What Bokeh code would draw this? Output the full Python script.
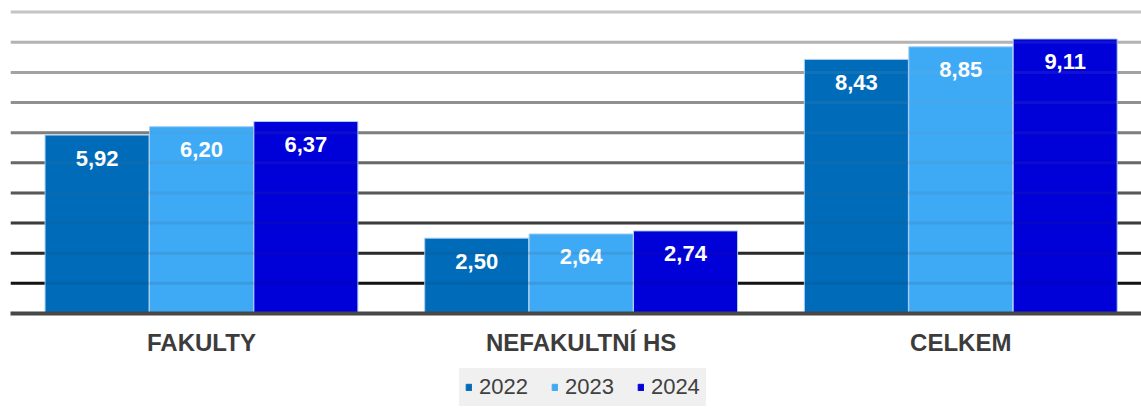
from bokeh.plotting import figure
from bokeh.layouts import column
from bokeh.models import ColumnDataSource, FixedTicker, Legend, LegendItem, Range1d
from bokeh.core.properties import value
from bokeh.embed import file_html
from bokeh.resources import INLINE

categories = ["FAKULTY", "NEFAKULTNÍ HS", "CELKEM"]
years = ["2022", "2023", "2024"]
v2022 = [5.92, 2.50, 8.43]
v2023 = [6.20, 2.64, 8.85]
v2024 = [6.37, 2.74, 9.11]
grid_ticks = [1, 2, 3, 4, 5, 6, 7, 8, 9, 10]

colors = ["#006cb9", "#3eaaf6", "#0000d8"]
grid_colors = ["#141414", "#2a2a2a", "#3e3e3e", "#585858", "#686868",
               "#7e7e7e", "#909090", "#a2a2a2", "#b4b4b4", "#c6c6c6"]

X0, X1 = -0.503, 2.476
p = figure(width=1141, height=363, output_backend="svg", toolbar_location=None,
           x_range=Range1d(X0, X1), y_range=Range1d(0, 10.12),
           min_border_left=10, min_border_right=0, min_border_top=8, min_border_bottom=50)
p.outline_line_color = None
p.xgrid.visible = False
p.ygrid.visible = False
p.yaxis.visible = False

gsrc = ColumnDataSource(dict(x0=[X0] * len(grid_ticks), x1=[X1] * len(grid_ticks),
                             y=grid_ticks, c=grid_colors))
p.segment(x0="x0", y0="y", x1="x1", y1="y", color="c", line_width=3, source=gsrc)

offsets = [-0.275, 0.0, 0.275]
bw = 0.274
for vals, off, col in zip([v2022, v2023, v2024], offsets, colors):
    xs = [i + off for i in range(len(categories))]
    src = ColumnDataSource(dict(x=xs, top=vals,
                                lab=[f"{v:.2f}".replace(".", ",") for v in vals]))
    p.vbar(x="x", top="top", width=bw, bottom=0, source=src,
           fill_color=col, line_color="#a9cff2", line_width=1)
    p.text(x="x", y="top", text="lab", source=src, y_offset=23,
           text_color="white", text_font=value("Liberation Sans"),
           text_font_style="bold", text_font_size="22px",
           text_align="center", text_baseline="middle")

# faint grid visible through bars
p.segment(x0="x0", y0="y", x1="x1", y1="y", color="c", line_width=3,
          line_alpha=0.1, source=gsrc)

ax = p.xaxis[0]
ax.ticker = FixedTicker(ticks=list(range(len(categories))))
ax.major_label_overrides = {i: c for i, c in enumerate(categories)}
ax.major_tick_line_color = None
ax.minor_tick_line_color = None
ax.major_tick_out = 0
ax.axis_line_color = "#474747"
ax.axis_line_width = 4
ax.major_label_standoff = 15
ax.major_label_text_font = "Liberation Sans"
ax.major_label_text_font_style = "bold"
ax.major_label_text_font_size = "24px"
ax.major_label_text_color = "#3c3c3c"

# legend strip (its swatch glyphs sit outside the visible range)
lf = figure(width=1141, height=45, output_backend="svg", toolbar_location=None,
            x_range=Range1d(0, 1), y_range=Range1d(0, 1),
            min_border_left=0, min_border_right=0, min_border_top=0, min_border_bottom=0)
lf.outline_line_color = None
lf.axis.visible = False
lf.grid.visible = False
leg_r = [lf.vbar(x=[-5], top=[-5], bottom=-6, width=0.1, fill_color=c, line_color=c)
         for c in colors]
legend = Legend(items=[LegendItem(label=y, renderers=[r]) for y, r in zip(years, leg_r)],
                orientation="horizontal", location=(449, 2))
legend.glyph_width = 7
legend.glyph_height = 8
legend.label_standoff = 7
legend.spacing = 23
legend.padding = 6
legend.margin = 0
legend.label_text_font = "Liberation Sans"
legend.label_text_font_size = "22px"
legend.label_text_color = "#404040"
legend.background_fill_color = "#f0f0f0"
legend.background_fill_alpha = 1
legend.border_line_alpha = 0
lf.add_layout(legend, "center")

open("out.html", "w").write(file_html(column(p, lf, spacing=0), INLINE))
